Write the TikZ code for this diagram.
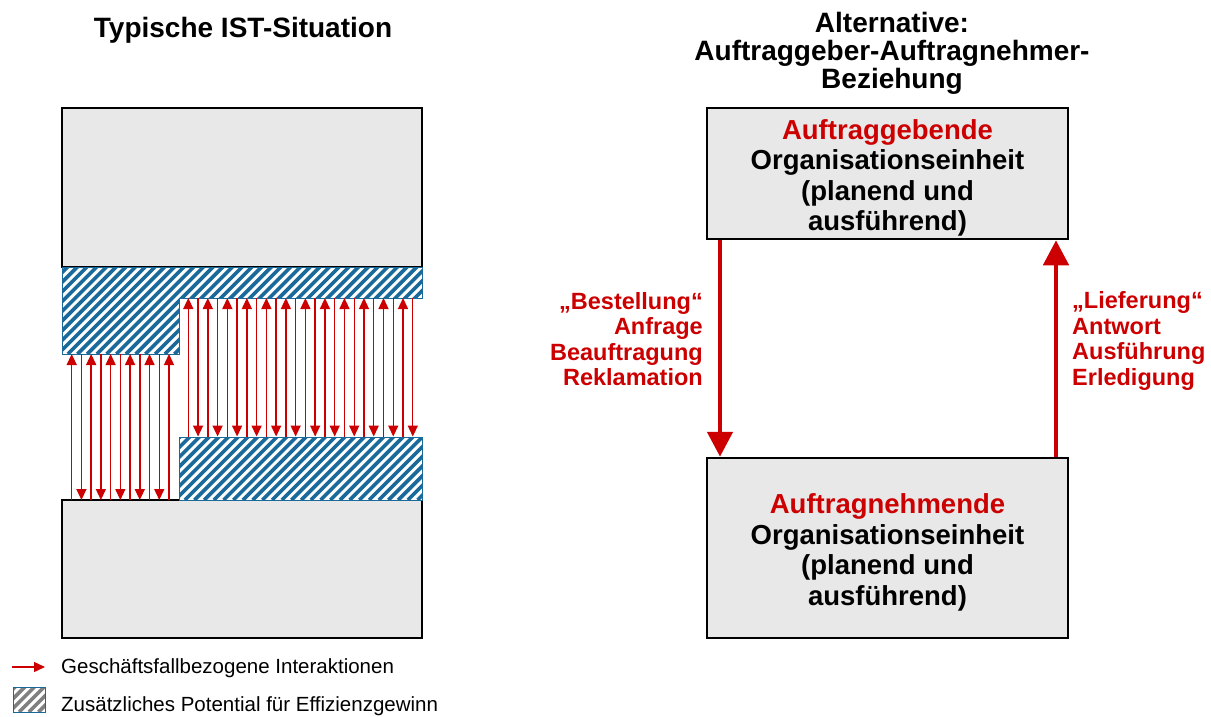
\documentclass[tikz,border=0pt]{standalone}
\usepackage{fontspec}
\setmainfont{Liberation Sans}
\usetikzlibrary{positioning, arrows.meta}
\definecolor{lred}{RGB}{204,0,0}
\definecolor{hblue}{RGB}{25,105,155}
\definecolor{boxgray}{RGB}{232,232,232}
\tikzset{hatch/.style={draw=hblue, line width=0.9pt, fill=white, path picture={
	\foreach \k in {0,...,52}
		\draw[#1, line width=3.6pt] ([xshift=\k*9.7-130]path picture bounding box.south west) -- ++(160,-160);
	}}}

\begin{document}
\begin{tikzpicture}[x=1pt,y=-1pt]
		\tikzstyle{box} = [draw=black, line width=2pt, fill=boxgray, inner sep=0, outer sep=0]
		\tikzstyle{obox} = [draw=black, line width=2.5pt, fill=boxgray, inner sep=0]
		\tikzstyle{otext} = [align=center, inner sep=0, font=\bfseries\fontsize{27.5}{30.5}\selectfont]
		\tikzstyle{title} = [font=\bfseries\fontsize{28}{28}\selectfont, align=center, inner sep=0]
		\tikzstyle{lbl} = [text=lred, font=\bfseries\fontsize{23.5}{25.5}\selectfont, inner sep=0]
		\tikzstyle{legend} = [font=\fontsize{20.5}{24}\selectfont, inner sep=0, anchor=base west]
		\tikzstyle{ia} = [lred, line width=1.4pt, -{Triangle[width=10pt,length=11pt]}]
		\tikzstyle{flow} = [lred, line width=4.7pt, -{Triangle[width=25pt,length=25pt]}]
		\useasboundingbox (0,0) rectangle (1211,716);
		% left: typical situation
		\node [title, anchor=base] (v7) at (243,37.3) {Typische IST-Situation};
		\node [box, minimum width=360, minimum height=159] (v1) at (242,187.5) {};
		\node [box, minimum width=360, minimum height=138] (v2) at (242,569) {};
		\coordinate (hL) at (179,354);
		\coordinate (hR) at (422,298);
		\path [hatch=hblue] (62,267) -- (422,267) -- (hR) -- (179,298) -- (hL) -- (62,354) -- cycle;
		\node [hatch=hblue, inner sep=0, minimum width=243, minimum height=63] (v3) at (300.5,468.5) {};
		\foreach \i in {0,...,10} {
			\pgfmathsetmacro\xx{71.7+9.73*\i}
			\ifodd\i
				\draw [ia] (\xx,0 |- hL) -- (\xx,0 |- v2.north);
			\else
				\draw [ia] (\xx,0 |- v2.north) -- (\xx,0 |- hL);
			\fi
		}
		\foreach \i in {0,...,23} {
			\pgfmathsetmacro\xx{188.3+9.76*\i}
			\ifodd\i
				\draw [ia] (\xx,0 |- hR) -- (\xx,0 |- v3.north);
			\else
				\draw [ia] (\xx,0 |- v3.north) -- (\xx,0 |- hR);
			\fi
		}
		% right: alternative
		\node [title] (v8) at (892,53.3) {Alternative:\\Auftraggeber-Auftragnehmer-\\Beziehung};
		\node [obox, minimum width=361, minimum height=131] (v4) at (887.5,173.5) {};
		\node [otext] (v4t) at ([yshift=-4.5]v4.center) {\textcolor{lred}{Auftraggebende}\\Organisationseinheit\\(planend und\\ausführend)};
		\node [obox, minimum width=361, minimum height=180] (v5) at (887.5,548) {};
		\node [otext] (v5t) at ([yshift=-4.5]v5.center) {\textcolor{lred}{Auftragnehmende}\\Organisationseinheit\\(planend und\\ausführend)};
		\draw [flow] (v4.south -| 720,0) -- (v5.north -| 720,0);
		\draw [flow] (v5.north -| 1056,0) -- (v4.south -| 1056,0);
		\node [lbl, align=right, anchor=east] (v6) at (703,339) {„Bestellung“\\Anfrage\\Beauftragung\\Reklamation};
		\node [lbl, align=left, anchor=west] (v9) at (1072,341) {„Lieferung“\\Antwort\\Ausführung\\Erledigung};
		% legend
		\coordinate (l1) at (12,667);
		\coordinate (l2) at (45,667);
		\draw [ia] (l1) -- (l2);
		\node [legend] (v10) at (61,673.3) {Geschäftsfallbezogene Interaktionen};
		\node [hatch=gray, inner sep=0, minimum width=32, minimum height=25] (v11) at (29.3,699.5) {};
		\node [legend] (v12) at (61,711.7) {Zusätzliches Potential für Effizienzgewinn};
\end{tikzpicture}
\end{document}
